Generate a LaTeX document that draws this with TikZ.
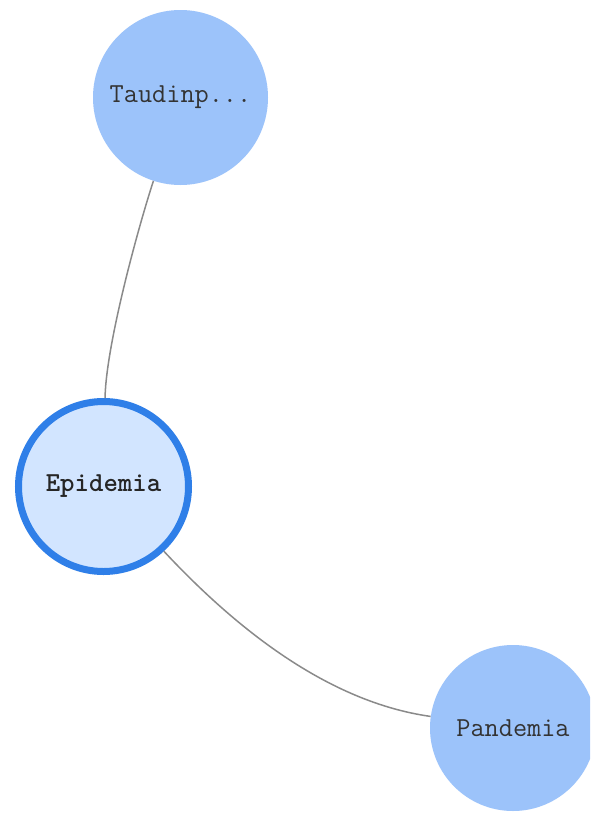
\documentclass[tikz,border=0pt]{standalone}
\definecolor{nodefill}{HTML}{9CC3FA}
\definecolor{selfill}{HTML}{D2E5FF}
\definecolor{selborder}{HTML}{2F7FE8}
\definecolor{edgegray}{HTML}{8A8A8A}
\definecolor{txt}{HTML}{333333}
\tikzset{
  vnode/.style={circle, fill=nodefill, draw=none, inner sep=0pt, text=txt,
    font=\fontsize{27.5}{29}\selectfont\ttfamily},
  selnode/.style={vnode, fill=selfill, draw=selborder, line width=7pt, font=\fontsize{27.5}{29}\selectfont\ttfamily\bfseries, text=black!85},
  vedge/.style={draw=edgegray, line width=1.5pt}
}
\begin{document}
\begin{tikzpicture}[x=1pt,y=1pt]
\useasboundingbox (0,0) rectangle (590,-814);
\clip (0,0) rectangle (590,-814);
\fill[white] (0,0) rectangle (590,-814);
\node[vnode, minimum size=175pt] (tau) at (180.5,-97.5) {Taudinp...};
\node[selnode, minimum size=170pt] (epi) at (103.5,-486.5) {Epidemia};
\node[vnode, minimum size=166pt] (pan) at (513,-728) {Pandemia};
\draw[vedge] (tau) to[out=252,in=89,looseness=0.6] (epi);
\draw[vedge] (epi) to[out=-47,in=172,looseness=0.85] (pan);
\end{tikzpicture}
\end{document}
